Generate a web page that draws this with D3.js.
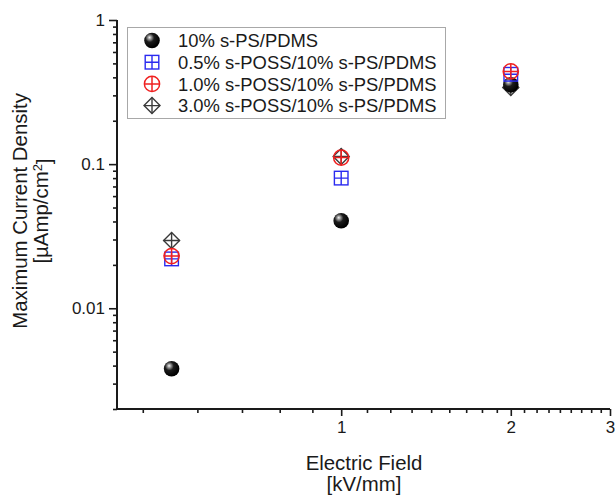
<!DOCTYPE html>
<html>
<head>
<meta charset="utf-8">
<script src="https://cdn.jsdelivr.net/npm/d3@7/dist/d3.min.js"></script>
<style>
  html, body { margin: 0; padding: 0; background: #fff; }
  svg { display: block; font-family: "Liberation Sans", Arial, sans-serif; }
</style>
</head>
<body>
<svg id="chart" width="615" height="495"></svg>
<script>
// Electric field (kV/mm) at which each sample was measured
const fields = [0.5, 1, 2];

// Maximum current density (µAmp/cm²) per sample
const ps10      = [0.0038, 0.0405, 0.355];
const poss05    = [0.022, 0.080, 0.42];
const poss10    = [0.023, 0.111, 0.44];
const poss30    = [0.0295, 0.113, 0.34];

const seriesNames = [
  "10% s-PS/PDMS",
  "0.5% s-POSS/10% s-PS/PDMS",
  "1.0% s-POSS/10% s-PS/PDMS",
  "3.0% s-POSS/10% s-PS/PDMS"
];

const xMajorTicks = [1, 2, 3];
const yMajorTicks = [0.01, 0.1, 1];

const series = [
  { name: seriesNames[0], values: ps10,   kind: "sphere",  layer: 1 },
  { name: seriesNames[1], values: poss05, kind: "square",  layer: 2 },
  { name: seriesNames[2], values: poss10, kind: "circle",  layer: 3 },
  { name: seriesNames[3], values: poss30, kind: "diamond", layer: 0 }
];

const svg = d3.select("#chart");
const ink = "#1a1a1a";
const font = "'Liberation Sans', Arial, sans-serif";

const x = d3.scaleLog().domain([0.4, 3]).range([117, 610]);
const y = d3.scaleLog().domain([0.002, 1]).range([409, 20]);

// gradient for the shaded black spheres
const defs = svg.append("defs");
const grad = defs.append("radialGradient").attr("id", "ball")
  .attr("cx", "38%").attr("cy", "36%").attr("r", "62%")
  .attr("fx", "34%").attr("fy", "30%");
grad.append("stop").attr("offset", "0%").attr("stop-color", "#f4f4f4");
grad.append("stop").attr("offset", "18%").attr("stop-color", "#9a9a9a");
grad.append("stop").attr("offset", "45%").attr("stop-color", "#1c1c1c");
grad.append("stop").attr("offset", "100%").attr("stop-color", "#000");

// minor ticks: eight evenly spaced values inside each unit step on x,
// the usual 2..9 per decade on y
const xMinor = [];
for (let m = 0; m < 3; m++) {
  for (let k = 1; k <= 8; k++) {
    const v = m + k / 9;
    if (v >= x.domain()[0] && v <= x.domain()[1]) xMinor.push(v);
  }
}
const yMinor = [];
[0.001, 0.01, 0.1].forEach(d => {
  for (let k = 2; k <= 9; k++) {
    const v = d * k;
    if (v >= y.domain()[0] && v < y.domain()[1] * 1.0001) yMinor.push(v);
  }
});

const fy = 409;
const fx = 117;

// x axis
const gx = svg.append("g").attr("transform", `translate(0,${fy})`);
gx.call(d3.axisBottom(x).tickValues(xMinor).tickSize(4).tickFormat("").tickSizeOuter(0));
gx.call(g => g.select(".domain").remove());
const gxMaj = svg.append("g").attr("transform", `translate(0,${fy})`)
  .call(d3.axisBottom(x).tickValues(xMajorTicks).tickSize(7).tickSizeOuter(0)
    .tickFormat(d3.format("d")).tickPadding(5));
gxMaj.select(".domain").remove();

// y axis
const gy = svg.append("g").attr("transform", `translate(${fx},0)`);
gy.call(d3.axisLeft(y).tickValues(yMinor).tickSize(4).tickFormat("").tickSizeOuter(0));
gy.call(g => g.select(".domain").remove());
const gyMaj = svg.append("g").attr("transform", `translate(${fx},0)`)
  .call(d3.axisLeft(y).tickValues(yMajorTicks).tickSize(8).tickSizeOuter(0)
    .tickFormat(d => d >= 1 ? "1" : String(d)).tickPadding(4));
gyMaj.select(".domain").remove();

svg.selectAll(".tick line").attr("stroke", ink).attr("stroke-width", 1.6);
svg.selectAll(".tick text").attr("fill", ink).style("font-size", "17px")
  .style("font-family", font);

// axis lines
svg.append("line").attr("x1", fx).attr("x2", x.range()[1]).attr("y1", fy).attr("y2", fy)
  .attr("stroke", ink).attr("stroke-width", 2);
svg.append("line").attr("x1", fx).attr("x2", fx).attr("y1", y.range()[1]).attr("y2", fy)
  .attr("stroke", ink).attr("stroke-width", 2);

// marker drawing
function drawMarker(g, kind, cx, cy) {
  if (kind === "sphere") {
    g.append("circle").attr("cx", cx).attr("cy", cy).attr("r", 7.8)
      .attr("fill", "url(#ball)");
  } else if (kind === "square") {
    const s = 6.8;
    g.append("rect").attr("x", cx - s).attr("y", cy - s).attr("width", 2 * s).attr("height", 2 * s)
      .attr("fill", "none").attr("stroke", "#2a2af0").attr("stroke-width", 1.4);
    g.append("path").attr("d", `M${cx - s},${cy}H${cx + s}M${cx},${cy - s}V${cy + s}`)
      .attr("stroke", "#2a2af0").attr("stroke-width", 1.4);
  } else if (kind === "circle") {
    const r = 7.6;
    g.append("circle").attr("cx", cx).attr("cy", cy).attr("r", r)
      .attr("fill", "none").attr("stroke", "#f02020").attr("stroke-width", 1.5);
    g.append("path").attr("d", `M${cx - r},${cy}H${cx + r}M${cx},${cy - r}V${cy + r}`)
      .attr("stroke", "#f02020").attr("stroke-width", 1.5);
  } else if (kind === "diamond") {
    const r = 8;
    g.append("path").attr("d", `M${cx},${cy - r}L${cx + r},${cy}L${cx},${cy + r}L${cx - r},${cy}Z`)
      .attr("fill", "none").attr("stroke", "#3a3a3a").attr("stroke-width", 1.4);
    g.append("path").attr("d", `M${cx - r},${cy}H${cx + r}M${cx},${cy - r}V${cy + r}`)
      .attr("stroke", "#3a3a3a").attr("stroke-width", 1.4);
  }
}

// data points, stacked so the crossed circles sit on top
const plot = svg.append("g");
series.slice().sort((a, b) => a.layer - b.layer).forEach(s => {
  const g = plot.append("g");
  s.values.forEach((v, i) => drawMarker(g, s.kind, x(fields[i]), y(v)));
});

// legend
const legend = svg.append("g");
legend.append("rect").attr("x", 127.5).attr("y", 27.5).attr("width", 318).attr("height", 91)
  .attr("fill", "#fff").attr("stroke", "#a8a8a8").attr("stroke-width", 1);
series.forEach((s, i) => {
  const ly = 40.5 + i * 21.7;
  drawMarker(legend, s.kind, 152, ly);
  legend.append("text").attr("x", 178).attr("y", ly).attr("dy", "0.36em")
    .attr("fill", ink).style("font-size", "18.4px").style("font-family", font).text(s.name);
});

// axis titles
const titleSize = "20.4px";
svg.append("text").attr("x", 364).attr("y", 470).attr("text-anchor", "middle")
  .attr("fill", ink).style("font-size", titleSize).style("font-family", font).text("Electric Field");
svg.append("text").attr("x", 364).attr("y", 491).attr("text-anchor", "middle")
  .attr("fill", ink).style("font-size", titleSize).style("font-family", font).text("[kV/mm]");

const yt = svg.append("g").attr("transform", "translate(27,211) rotate(-90)");
yt.append("text").attr("x", 0).attr("y", 0).attr("text-anchor", "middle")
  .attr("fill", ink).style("font-size", titleSize).style("font-family", font)
  .text("Maximum Current Density");
const yt2 = yt.append("text").attr("x", 0).attr("y", 21).attr("text-anchor", "middle")
  .attr("fill", ink).style("font-size", titleSize).style("font-family", font);
yt2.append("tspan").text("[\u00b5Amp/cm");
yt2.append("tspan").attr("dy", "-0.45em").style("font-size", "13px").text("2");
yt2.append("tspan").attr("dy", "0.45em").text("]");
</script>
</body>
</html>
